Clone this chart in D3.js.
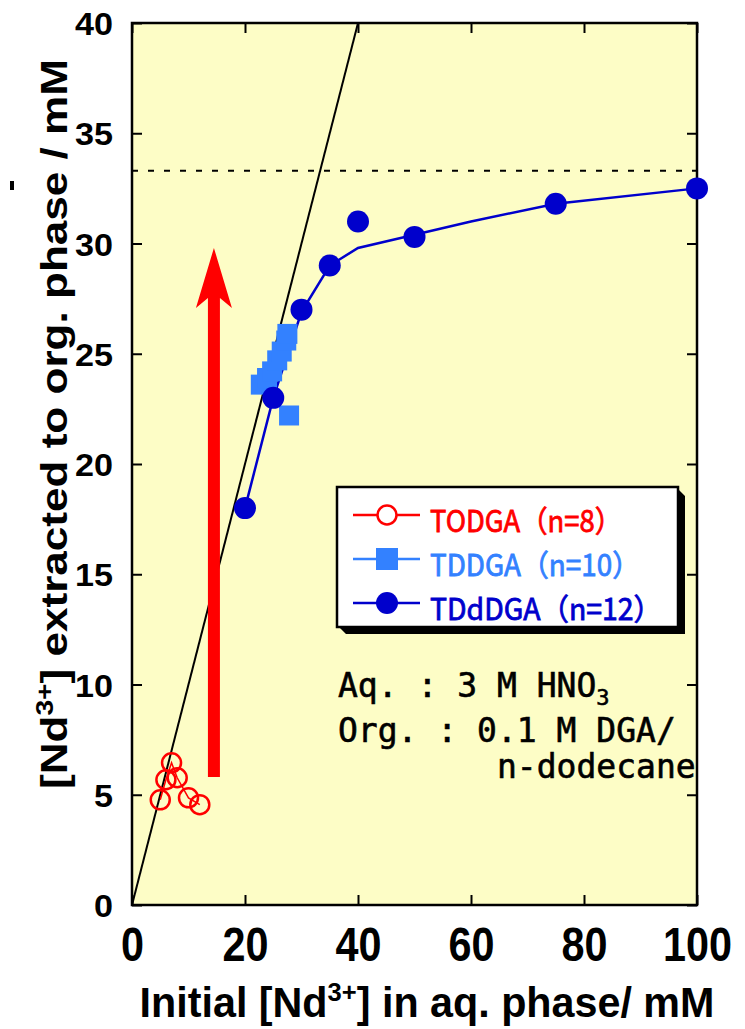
<!DOCTYPE html>
<html>
<head>
<meta charset="utf-8">
<script src="https://cdn.jsdelivr.net/npm/d3@7"></script>
<style>
  body { margin: 0; background: #fff; }
</style>
</head>
<body>
<div id="chart"></div>
<script>
// data
const todgaX = [5, 6, 7, 8, 10, 12];
const todgaY = [4.77, 5.68, 6.45, 5.77, 4.86, 4.55];

const tddgaX = [22.8, 23.9, 24.8, 25.7, 26.5, 27.3, 27.5, 27.8];
const tddgaY = [23.6, 23.9, 24.2, 24.7, 25.1, 25.6, 25.9, 22.2];

const tdddgaX = [20, 25, 30, 35, 40, 50, 75, 100];
const tdddgaY = [18, 23, 27, 29, 31, 30.3, 31.8, 32.5];

// fitted curve drawn through the TDdDGA points
const fitX = [20, 25, 30, 35, 40, 50, 60, 75, 100];
const fitY = [18, 23, 26.9, 29, 29.8, 30.4, 31.0, 31.8, 32.5];

const diagX = [0, 40];
const diagY = [0, 40];
const satLevel = 33.3;
const arrowX = 14.5;
const arrowY = [5.8, 29.8];

const xTicks = [0, 20, 40, 60, 80, 100];
const yTicks = [0, 5, 10, 15, 20, 25, 30, 35, 40];

const seriesNames = ["TODGA（n=8）", "TDDGA（n=10）", "TDdDGA（n=12）"];
const seriesColors = ["#ff0000", "#3381ff", "#0000cc"];

const width = 745;
const height = 1029;
const margin = { top: 23, bottom: 124, left: 132, right: 48 };

const svg = d3
  .select("#chart")
  .append("svg")
  .attr("width", width)
  .attr("height", height)
  .style("background", "#fff");

const x = d3.scaleLinear().domain([0, 100]).range([margin.left, width - margin.right]);
const y = d3.scaleLinear().domain([0, 40]).range([height - margin.bottom, margin.top]);

// plot background
svg
  .append("rect")
  .attr("x", x(0))
  .attr("y", y(40))
  .attr("width", x(100) - x(0))
  .attr("height", y(0) - y(40))
  .attr("fill", "#fdfdc6");

// axes with inward ticks
const bottomAxis = svg
  .append("g")
  .attr("transform", `translate(0, ${y(0)})`)
  .call(d3.axisBottom(x).tickValues(xTicks).tickSize(-10).tickSizeOuter(0));
bottomAxis
  .selectAll("text")
  .attr("y", 56)
  .attr("dy", null)
  .attr("fill", "#000")
  .style("font-family", "'Liberation Sans', Arial, sans-serif")
  .style("font-weight", "bold")
  .style("font-size", "48px")
  .attr("textLength", (d) => String(d).length * 23)
  .attr("lengthAdjust", "spacingAndGlyphs");

const leftAxis = svg
  .append("g")
  .attr("transform", `translate(${x(0)}, 0)`)
  .call(d3.axisLeft(y).tickValues(yTicks).tickSize(-10).tickSizeOuter(0));
leftAxis
  .selectAll("text")
  .attr("x", -19)
  .attr("dy", "0.36em")
  .attr("fill", "#000")
  .style("font-family", "'Liberation Sans', Arial, sans-serif")
  .style("font-weight", "bold")
  .style("font-size", "32px")
  .attr("textLength", (d) => String(d).length * 19)
  .attr("lengthAdjust", "spacingAndGlyphs");

svg
  .append("g")
  .attr("transform", `translate(0, ${y(40)})`)
  .call(d3.axisTop(x).tickValues(xTicks).tickSize(-10).tickSizeOuter(0).tickFormat(""));

svg
  .append("g")
  .attr("transform", `translate(${x(100)}, 0)`)
  .call(d3.axisRight(y).tickValues(yTicks).tickSize(-10).tickSizeOuter(0).tickFormat(""));

svg.selectAll(".domain").remove();
svg.selectAll(".tick line").attr("stroke", "#000").attr("stroke-width", 2);

// frame
svg
  .append("rect")
  .attr("x", x(0))
  .attr("y", y(40))
  .attr("width", x(100) - x(0))
  .attr("height", y(0) - y(40))
  .attr("fill", "none")
  .attr("stroke", "#000")
  .attr("stroke-width", 2.5);

// saturation level (dashed) and y = x line
svg
  .append("line")
  .attr("x1", x(0))
  .attr("x2", x(100))
  .attr("y1", y(satLevel))
  .attr("y2", y(satLevel))
  .attr("stroke", "#000")
  .attr("stroke-width", 2)
  .attr("stroke-dasharray", "6,10");

svg
  .append("line")
  .attr("x1", x(diagX[0]))
  .attr("y1", y(diagY[0]))
  .attr("x2", x(diagX[1]))
  .attr("y2", y(diagY[1]))
  .attr("stroke", "#000")
  .attr("stroke-width", 2);

// red arrow
const ax = x(arrowX);
const ab = y(arrowY[0]);
const at = y(arrowY[1]);
svg
  .append("polygon")
  .attr(
    "points",
    [
      [ax, at],
      [ax + 18, at + 60],
      [ax + 6, at + 50],
      [ax + 6, ab],
      [ax - 6, ab],
      [ax - 6, at + 50],
      [ax - 18, at + 60],
    ].join(" "),
  )
  .attr("fill", "#ff0000");

// TDdDGA fitted line
const line = d3
  .line()
  .x((d) => x(d[0]))
  .y((d) => y(d[1]));

svg
  .append("path")
  .datum(d3.zip(fitX, fitY))
  .attr("d", line)
  .attr("fill", "none")
  .attr("stroke", seriesColors[2])
  .attr("stroke-width", 2.5);

// TODGA open circles
svg
  .append("path")
  .datum(d3.zip(todgaX, todgaY))
  .attr("d", line)
  .attr("fill", "none")
  .attr("stroke", seriesColors[0])
  .attr("stroke-width", 1.5);

svg
  .selectAll("circle.todga")
  .data(d3.zip(todgaX, todgaY))
  .enter()
  .append("circle")
  .attr("class", "todga")
  .attr("cx", (d) => x(d[0]))
  .attr("cy", (d) => y(d[1]))
  .attr("r", 9.5)
  .attr("fill", "none")
  .attr("stroke", seriesColors[0])
  .attr("stroke-width", 2.5);

// TDDGA squares
svg
  .selectAll("rect.tddga")
  .data(d3.zip(tddgaX, tddgaY))
  .enter()
  .append("rect")
  .attr("class", "tddga")
  .attr("x", (d) => x(d[0]) - 10)
  .attr("y", (d) => y(d[1]) - 10)
  .attr("width", 20)
  .attr("height", 20)
  .attr("fill", seriesColors[1]);

// TDdDGA filled circles
svg
  .selectAll("circle.tdddga")
  .data(d3.zip(tdddgaX, tdddgaY))
  .enter()
  .append("circle")
  .attr("class", "tdddga")
  .attr("cx", (d) => x(d[0]))
  .attr("cy", (d) => y(d[1]))
  .attr("r", 11)
  .attr("fill", seriesColors[2]);

// legend box with shadow
const lg = { x: 337, y: 487, w: 341, h: 140, s: 7 };
svg
  .append("polygon")
  .attr(
    "points",
    [
      [lg.x + 2, lg.y + lg.h],
      [lg.x + lg.w, lg.y + lg.h],
      [lg.x + lg.w, lg.y + 2],
      [lg.x + lg.w + lg.s, lg.y + lg.s + 2],
      [lg.x + lg.w + lg.s, lg.y + lg.h + lg.s],
      [lg.x + lg.s + 2, lg.y + lg.h + lg.s],
    ].join(" "),
  )
  .attr("fill", "#000");

svg
  .append("rect")
  .attr("x", lg.x)
  .attr("y", lg.y)
  .attr("width", lg.w)
  .attr("height", lg.h)
  .attr("fill", "#fff")
  .attr("stroke", "#000")
  .attr("stroke-width", 2.5);

const rowY = [515, 559, 603];
const textY = [532, 576, 620];
const textLen = [192, 210, 232];

seriesNames.forEach((name, i) => {
  const g = svg.append("g");
  g.append("line")
    .attr("x1", 353)
    .attr("x2", 420)
    .attr("y1", rowY[i])
    .attr("y2", rowY[i])
    .attr("stroke", seriesColors[i])
    .attr("stroke-width", 2.5);
  if (i === 0) {
    g.append("circle")
      .attr("cx", 387)
      .attr("cy", rowY[i])
      .attr("r", 9.5)
      .attr("fill", "#fff")
      .attr("stroke", seriesColors[i])
      .attr("stroke-width", 2.5);
  } else if (i === 1) {
    g.append("rect")
      .attr("x", 376)
      .attr("y", rowY[i] - 11)
      .attr("width", 22)
      .attr("height", 22)
      .attr("fill", seriesColors[i]);
  } else {
    g.append("circle")
      .attr("cx", 387)
      .attr("cy", rowY[i])
      .attr("r", 11)
      .attr("fill", seriesColors[i]);
  }
  g.append("text")
    .attr("x", 430)
    .attr("y", textY[i])
    .attr("fill", seriesColors[i])
    .attr("stroke", seriesColors[i])
    .attr("stroke-width", 0.8)
    .style("font-family", "'Noto Sans CJK JP', sans-serif")
    .style("font-size", "30px")
    .attr("textLength", textLen[i])
    .attr("lengthAdjust", "spacingAndGlyphs")
    .text(name);
});

// conditions note
const note = svg
  .append("g")
  .style("font-family", "'DejaVu Sans Mono', monospace")
  .style("font-size", "33px")
  .attr("fill", "#000")
  .attr("stroke", "#000")
  .attr("stroke-width", 0.6);

const aq = note.append("text").attr("x", 338).attr("y", 697);
aq.append("tspan").text("Aq. : 3 M HNO");
aq.append("tspan").attr("dy", 8).style("font-size", "22px").text("3");

note.append("text").attr("x", 338).attr("y", 742).text("Org. : 0.1 M DGA/");
note.append("text").attr("x", 497).attr("y", 778).text("n-dodecane");

// axis titles (x title squeezed horizontally to the reference width)
const xtG = svg.append("g");
const xt = xtG
  .append("text")
  .attr("x", 0)
  .attr("y", 0)
  .attr("text-anchor", "middle")
  .attr("fill", "#000")
  .style("font-family", "'Liberation Sans', Arial, sans-serif")
  .style("font-weight", "bold")
  .style("font-size", "42px");
xt.append("tspan").text("Initial [Nd");
xt.append("tspan").attr("dy", -16).style("font-size", "26px").text("3+");
xt.append("tspan").attr("dy", 16).text("] in aq. phase/ mM");
const xtLen = xt.node().getComputedTextLength() || 575;
xtG.attr("transform", `translate(427, 1017) scale(${575 / xtLen}, 1)`);

const yt = svg
  .append("text")
  .attr("transform", "translate(67, 424) rotate(-90)")
  .attr("text-anchor", "middle")
  .attr("fill", "#000")
  .style("font-family", "'Liberation Sans', Arial, sans-serif")
  .style("font-weight", "bold")
  .style("font-size", "36px")
  .attr("textLength", 730)
  .attr("lengthAdjust", "spacingAndGlyphs");
yt.append("tspan").text("[Nd");
yt.append("tspan").attr("dy", -14).style("font-size", "23px").text("3+");
yt.append("tspan").attr("dy", 14).text("] extracted to org. phase / mM");

// small stray mark left of the y title
svg.append("rect").attr("x", 10).attr("y", 181).attr("width", 4).attr("height", 9).attr("fill", "#000");
</script>
</body>
</html>
